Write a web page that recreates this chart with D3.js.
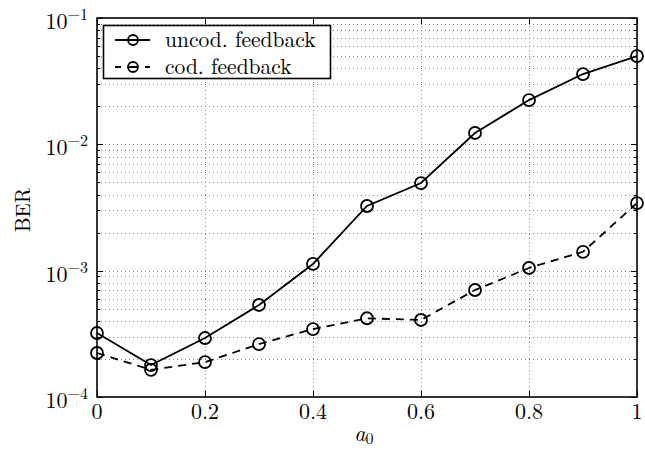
<!DOCTYPE html>
<html><head><meta charset="utf-8">
<script src="https://cdn.jsdelivr.net/npm/d3@7"></script>
<style>body{margin:0;background:#fff}svg{display:block}</style>
</head><body><svg id="c" width="645" height="450"></svg>
<script>
const a0 = [0,0.1,0.2,0.3,0.4,0.5,0.6,0.7,0.8,0.9,1];
const uncoded = [3.21e-4,1.79e-4,2.93e-4,5.35e-4,1.13e-3,3.25e-3,4.94e-3,1.23e-2,2.24e-2,3.6e-2,5.0e-2];
const coded = [2.23e-4,1.64e-4,1.89e-4,2.62e-4,3.45e-4,4.2e-4,4.07e-4,7.03e-4,1.05e-3,1.41e-3,3.43e-3];
const xTicks = [0,0.2,0.4,0.6,0.8,1];
const xTickLabels = ["0","0.2","0.4","0.6","0.8","1"];
const yExps = [-4,-3,-2,-1];
const seriesNames = ["uncod. feedback","cod. feedback"];

const FF="Latin Modern Roman";
const L=97,R=637,T=18,B=397;
const svg=d3.select("#c");
const x=d3.scaleLinear().domain([0,1]).range([L,R]);
const y=d3.scaleLog().domain([1e-4,1e-1]).range([B,T]);

const minors=[];
for(let e=-4;e<-1;e++) for(let k=2;k<=9;k++) minors.push(k*Math.pow(10,e));
const majors=yExps.map(e=>Math.pow(10,e));

const g=svg.append("g");
g.selectAll(".gy").data(minors.concat(majors.slice(1,3))).join("line")
 .attr("x1",L).attr("x2",R).attr("y1",d=>Math.round(y(d))+0.5).attr("y2",d=>Math.round(y(d))+0.5)
 .attr("stroke","#888").attr("stroke-width",1).attr("stroke-dasharray","1,3");
g.selectAll(".gx").data(xTicks.slice(1,-1)).join("line")
 .attr("x1",d=>Math.round(x(d))+0.5).attr("x2",d=>Math.round(x(d))+0.5).attr("y1",T).attr("y2",B)
 .attr("stroke","#888").attr("stroke-width",1).attr("stroke-dasharray","1,3");

const ticks=svg.append("g").attr("stroke","#000").attr("stroke-width",1);
minors.forEach(d=>{const yy=Math.round(y(d))+0.5;
 ticks.append("line").attr("x1",L).attr("x2",L+3).attr("y1",yy).attr("y2",yy);
 ticks.append("line").attr("x1",R-3).attr("x2",R).attr("y1",yy).attr("y2",yy);});
majors.forEach(d=>{const yy=Math.round(y(d))+0.5;
 ticks.append("line").attr("x1",L).attr("x2",L+6).attr("y1",yy).attr("y2",yy);
 ticks.append("line").attr("x1",R-6).attr("x2",R).attr("y1",yy).attr("y2",yy);});
xTicks.forEach(d=>{const xx=Math.round(x(d))+0.5;
 ticks.append("line").attr("x1",xx).attr("x2",xx).attr("y1",B).attr("y2",B-6);
 ticks.append("line").attr("x1",xx).attr("x2",xx).attr("y1",T).attr("y2",T+6);});

svg.append("rect").attr("x",L).attr("y",T).attr("width",R-L).attr("height",B-T)
 .attr("fill","none").attr("stroke","#000").attr("stroke-width",1.6);

svg.selectAll(".xl").data(xTicks).join("text").attr("font-family",FF).attr("x",d=>x(d)).attr("y",B+22)
 .attr("text-anchor","middle").attr("font-size",22).text((d,i)=>xTickLabels[i]);
const yl=svg.selectAll(".yl").data(yExps).join("text").attr("font-family",FF).attr("text-anchor","end")
 .attr("x",L-9).attr("y",d=>y(Math.pow(10,d))+11).attr("font-size",22);
yl.append("tspan").text("10");
yl.append("tspan").attr("dy",-9).attr("font-size",16).text(d=>"\u2212"+(-d));

svg.append("text").attr("font-family",FF).attr("x",(L+R)/2-3).attr("y",441).attr("text-anchor","middle")
 .attr("font-size",22).attr("font-style","italic").text("a")
 .append("tspan").attr("font-style","normal").attr("font-size",16).attr("dy",3).text("0");
svg.append("text").attr("font-family",FF).attr("transform","translate(30,210) rotate(-90)")
 .attr("text-anchor","middle").attr("font-size",21).text("BER");

const line=d3.line().x((d,i)=>x(a0[i])).y(d=>y(d));
const series=[{v:uncoded,dash:null},{v:coded,dash:"8,6"}];
series.forEach(s=>{
 svg.append("path").attr("d",line(s.v)).attr("fill","none").attr("stroke","#000")
  .attr("stroke-width",1.8).attr("stroke-dasharray",s.dash);
 svg.selectAll(null).data(s.v).join("circle").attr("cx",(d,i)=>x(a0[i])).attr("cy",d=>y(d))
  .attr("r",6).attr("fill","none").attr("stroke","#000").attr("stroke-width",1.8);
});

const lg=svg.append("g");
lg.append("rect").attr("x",103.5).attr("y",25.5).attr("width",227).attr("height",53)
 .attr("fill","#fff").attr("stroke","#000").attr("stroke-width",1.6);
series.forEach((s,i)=>{
 const yy=40+i*27;
 lg.append("line").attr("x1",115).attr("x2",150).attr("y1",yy).attr("y2",yy)
  .attr("stroke","#000").attr("stroke-width",1.8).attr("stroke-dasharray",s.dash?"6,7,10,7,5,30":null);
 lg.append("circle").attr("cx",133).attr("cy",yy).attr("r",5).attr("fill","none")
  .attr("stroke","#000").attr("stroke-width",1.8);
 lg.append("text").attr("font-family",FF).attr("x",165).attr("y",yy+7).attr("font-size",21.5).text(seriesNames[i]);
});
</script></body></html>
